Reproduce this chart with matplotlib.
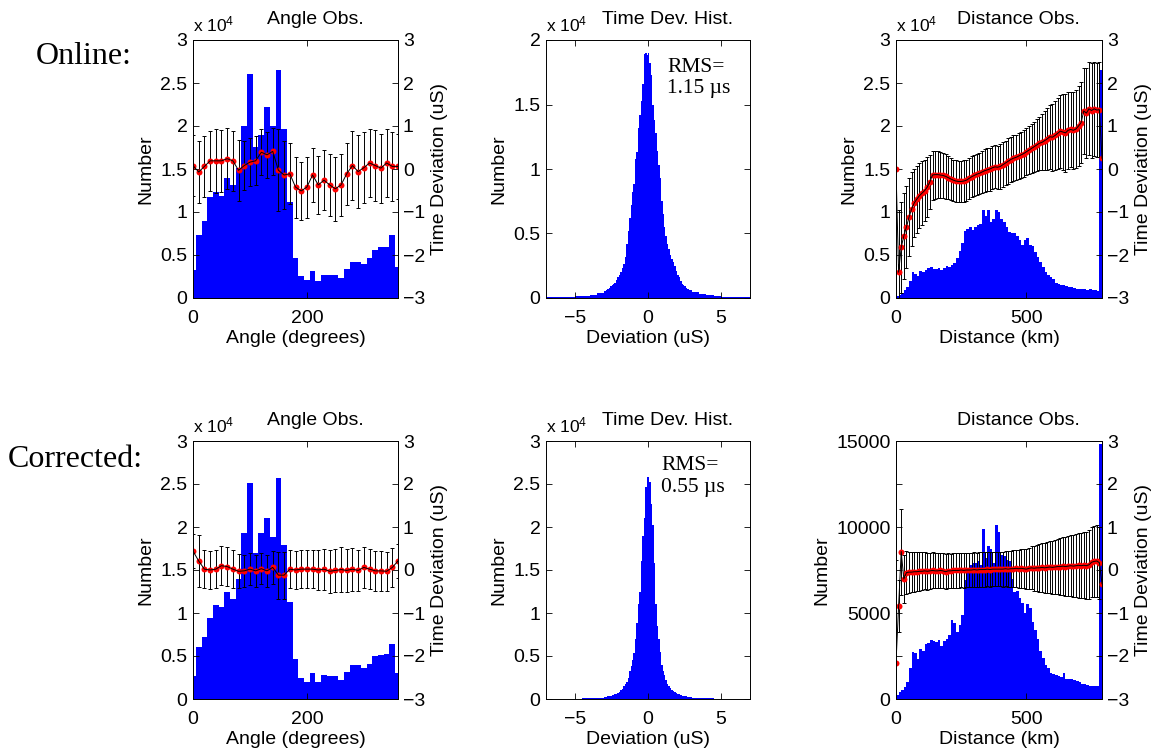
import numpy as np
import matplotlib.pyplot as plt

plt.rcParams['font.family'] = ['Liberation Sans', 'DejaVu Sans']
plt.rcParams['mathtext.fontset'] = 'custom'
plt.rcParams['mathtext.rm'] = 'Liberation Sans'
plt.rcParams['mathtext.default'] = 'regular'

# ---- angle observations (10 degree bins) ----
angle = np.arange(0, 361, 10)
ang_cnt_on = np.array([3200, 7300, 8900, 11700, 12300, 11900, 13900, 13100, 15100, 20000,
                       26100, 17600, 19000, 22200, 20000, 26500, 19700, 11200, 4700, 2600,
                       2100, 3100, 2000, 2700, 2700, 2700, 2300, 3400, 4200, 4200,
                       3900, 4600, 5600, 5900, 5900, 7300, 3600])
ang_dev_on = np.array([0.08, -0.07, 0.06, 0.19, 0.19, 0.19, 0.24, 0.19, -0.03, 0.08,
                       0.16, 0.19, 0.39, 0.33, 0.41, -0.03, -0.14, -0.11, -0.42, -0.51,
                       -0.42, -0.14, -0.37, -0.26, -0.37, -0.46, -0.37, -0.11, 0.08, -0.06,
                       0.03, 0.14, 0.08, 0.02, 0.14, 0.06, 0.06])
ang_err_on = np.array([0.7, 0.72, 0.71, 0.7, 0.74, 0.72, 0.71, 0.7, 0.71, 0.57,
                       0.55, 0.57, 0.53, 0.54, 0.54, 0.95, 0.8, 0.71, 0.71, 0.68,
                       0.71, 0.62, 0.68, 0.7, 0.72, 0.75, 0.72, 0.72, 0.8, 0.85,
                       0.82, 0.8, 0.82, 0.8, 0.8, 0.8, 0.75])
ang_cnt_cor = np.array([2700, 6000, 7200, 9400, 10900, 10700, 12400, 11600, 13900, 19300,
                        25100, 17000, 19300, 21100, 18800, 25700, 17900, 11300, 4700, 2500,
                        2000, 3000, 2000, 2800, 2700, 2700, 2200, 3100, 3900, 3900,
                        3600, 4100, 5000, 5100, 5200, 6400, 3000])
ang_dev_cor = np.array([0.44, 0.21, 0.02, 0.0, 0.02, 0.1, 0.08, 0.02, -0.03, -0.02,
                        0.02, -0.02, 0.03, -0.02, 0.06, -0.12, -0.12, 0.02, 0.0, 0.02,
                        0.02, 0.02, 0.0, 0.02, -0.03, -0.01, 0.01, -0.01, 0.02, -0.01,
                        0.06, 0.02, -0.02, -0.02, -0.03, 0.06, 0.21])
ang_err_cor = np.array([0.4, 0.6, 0.45, 0.45, 0.45, 0.46, 0.46, 0.45, 0.4, 0.38,
                        0.38, 0.37, 0.36, 0.37, 0.38, 0.55, 0.55, 0.45, 0.45, 0.45,
                        0.45, 0.45, 0.47, 0.48, 0.5, 0.5, 0.52, 0.5, 0.5, 0.48,
                        0.47, 0.47, 0.46, 0.46, 0.46, 0.45, 0.4])

# ---- time deviation histograms (counts per 0.1 us) ----
dev_edges = np.concatenate([np.linspace(-7, -3.5, 8), np.linspace(-3, 3, 61),
                            np.linspace(3.5, 7, 8)])
dev_cnt_on = np.array([40, 50, 70, 90, 120, 180, 250, 400,
                       550, 600, 700, 800, 900, 1000, 1100, 1200, 1400, 1600,
                       1800, 2000, 2300, 2600, 3200, 4200, 5200, 6200, 7200, 8200,
                       8800, 10800, 11300, 13200, 14200, 15300, 16600, 18900, 19000, 18800,
                       19000, 18200, 17300, 15000, 13800, 12800, 11400, 10300, 9300, 7500,
                       6500, 5500, 4800, 4200, 3800, 3300, 3000, 2800, 2500, 2100,
                       1800, 1600, 1300, 1100, 1000, 900, 800, 700, 650, 600,
                       450, 320, 220, 160, 110, 80, 60, 50])
dev_cnt_cor = np.array([10, 20, 20, 30, 40, 60, 100, 150,
                        250, 280, 320, 360, 400, 450, 500, 550, 600, 700,
                        800, 1000, 1200, 1500, 1700, 2000, 2400, 3200, 3800, 4500,
                        5300, 7000, 8800, 11000, 12500, 16000, 19000, 21000, 24700, 25800,
                        25800, 25200, 22700, 20200, 15800, 11100, 8500, 7000, 5500, 4000,
                        3300, 2800, 2200, 1800, 1500, 1300, 1100, 900, 800, 700,
                        600, 550, 500, 400, 350, 300, 300, 250, 220, 200,
                        150, 100, 60, 40, 30, 20, 20, 10])

# ---- distance observations (10 km bins) ----
dist = np.arange(0, 791, 10)
dist_edges = np.arange(0, 791, 10)
dist_cnt_on = np.array([200, 400, 600, 900, 1300, 2000, 3000, 2800, 2500, 3100,
                        3000, 3300, 3500, 3600, 3400, 3400, 3500, 3300, 3500, 3700,
                        3600, 3800, 4100, 4700, 5500, 6400, 7800, 8000, 8200, 7900,
                        8200, 8500, 8600, 10200, 9500, 10200, 8800, 9200, 10200, 10000,
                        9200, 8800, 8300, 7700, 7500, 7500, 7200, 6700, 6200, 6700,
                        7000, 6200, 6000, 5300, 4800, 4200, 3600, 3000, 2700, 2400,
                        2200, 1700, 1600, 1500, 1500, 1400, 1300, 1300, 1200, 1100,
                        1100, 1000, 1000, 900, 1000, 900, 900, 800, 26500])
dist_dev_on = np.array([0.0, -2.4, -1.82, -1.56, -1.35, -1.12, -0.93, -0.79, -0.7, -0.62,
                        -0.56, -0.5, -0.42, -0.3, -0.14, -0.13, -0.13, -0.14, -0.15, -0.17,
                        -0.2, -0.23, -0.26, -0.28, -0.29, -0.29, -0.28, -0.26, -0.22, -0.18,
                        -0.15, -0.12, -0.1, -0.07, -0.04, -0.02, 0.0, 0.03, 0.05, 0.04,
                        0.06, 0.1, 0.14, 0.18, 0.22, 0.25, 0.27, 0.3, 0.33, 0.36,
                        0.4, 0.44, 0.48, 0.52, 0.56, 0.6, 0.62, 0.66, 0.7, 0.75,
                        0.74, 0.78, 0.83, 0.88, 0.86, 0.84, 0.9, 0.92, 0.9, 0.93,
                        1.0, 1.08, 1.35, 1.3, 1.4, 1.36, 1.4, 1.37, 1.38, 0.25])
dist_err_on = np.array([0, 1.45, 1.06, 1.0, 0.95, 0.9, 0.85, 0.8, 0.78, 0.76,
                        0.74, 0.72, 0.7, 0.62, 0.57, 0.56, 0.55, 0.54, 0.53, 0.52,
                        0.5, 0.49, 0.48, 0.48, 0.48, 0.48, 0.48, 0.48, 0.48, 0.48,
                        0.48, 0.48, 0.48, 0.49, 0.5, 0.5, 0.5, 0.5, 0.5, 0.5,
                        0.52, 0.52, 0.52, 0.53, 0.53, 0.53, 0.53, 0.54, 0.54, 0.55,
                        0.55, 0.56, 0.57, 0.58, 0.6, 0.62, 0.65, 0.68, 0.72, 0.75,
                        0.78, 0.8, 0.82, 0.85, 0.88, 0.9, 0.9, 0.88, 0.9, 0.9,
                        0.92, 0.95, 1.0, 1.05, 1.08, 1.1, 1.1, 1.1, 1.1, 0])
dist_cnt_cor = np.array([250, 400, 500, 700, 1000, 1800, 2750, 2700, 2300, 2900,
                         2800, 3200, 3250, 3450, 3400, 3300, 3450, 3100, 3400, 3500,
                         3700, 4600, 4400, 3900, 4300, 4900, 6900, 7500, 7800, 7900,
                         7900, 8000, 7800, 9900, 8200, 8900, 8700, 7900, 10100, 9700,
                         8400, 8300, 8100, 8000, 7000, 6200, 6300, 5900, 5600, 5000,
                         5500, 5300, 4500, 4000, 3500, 2800, 2400, 2000, 1800, 1500,
                         1450, 1400, 1350, 1300, 1500, 1150, 1150, 1150, 1100, 1050,
                         1000, 900, 850, 800, 780, 760, 750, 750, 14800])
dist_dev_cor = np.array([-2.16, -0.84, 0.43, -0.21, -0.06, -0.05, -0.05, -0.04, -0.04, -0.03,
                         -0.03, -0.02, -0.03, -0.02, -0.01, -0.02, -0.02, -0.01, -0.02, -0.04,
                         -0.02, -0.02, -0.01, -0.01, -0.01, 0.0, -0.01, 0.0, 0.0, 0.0,
                         0.01, 0.0, 0.01, 0.01, 0.01, 0.02, 0.01, 0.02, 0.02, 0.02,
                         0.02, 0.02, 0.03, 0.02, 0.03, 0.03, 0.04, 0.03, 0.04, 0.03,
                         0.02, 0.04, 0.05, 0.04, 0.05, 0.05, 0.06, 0.05, 0.06, 0.07,
                         0.06, 0.07, 0.08, 0.08, 0.09, 0.08, 0.09, 0.1, 0.09, 0.1,
                         0.11, 0.1, 0.11, 0.1, 0.12, 0.18, 0.2, 0.21, 0.17, -0.32])
dist_err_cor = np.array([2.4, 0.6, 1.0, 0.55, 0.5, 0.48, 0.47, 0.46, 0.45, 0.45,
                         0.44, 0.43, 0.43, 0.42, 0.42, 0.41, 0.41, 0.41, 0.41, 0.41,
                         0.41, 0.4, 0.4, 0.4, 0.4, 0.4, 0.4, 0.4, 0.4, 0.4,
                         0.4, 0.4, 0.4, 0.4, 0.4, 0.4, 0.4, 0.4, 0.4, 0.4,
                         0.4, 0.41, 0.41, 0.42, 0.42, 0.43, 0.43, 0.44, 0.45, 0.46,
                         0.47, 0.48, 0.5, 0.52, 0.53, 0.55, 0.56, 0.58, 0.59, 0.6,
                         0.62, 0.63, 0.64, 0.66, 0.67, 0.68, 0.7, 0.71, 0.72, 0.73,
                         0.75, 0.76, 0.77, 0.78, 0.8, 0.81, 0.82, 0.83, 0.84, 0])

FS = 14
W, H = 1152, 755
fig = plt.figure(figsize=(11.52, 7.55), dpi=100)


def add_ax(l, t, r, b):
    return fig.add_axes([l / W, 1 - b / H, (r - l) / W, (b - t) / H])


def style(ax):
    for s in ax.spines.values():
        s.set_linewidth(0.7)
    ax.tick_params(axis='x', direction='in', top=True, length=4, width=0.6, pad=8.5, labelsize=FS)
    ax.tick_params(axis='y', direction='in', length=4, width=0.6, pad=4, labelsize=FS)


def fmt_ticks(ax, ticks, shown=None):
    ax.set_yticks(ticks)
    labels = []
    for t in ticks:
        if shown is None or t in shown:
            labels.append('%g' % t)
        else:
            labels.append('')
    ax.set_yticklabels(labels)


def title(ax, txt, exp=True):
    ax.text(0.595, 1.062, txt, transform=ax.transAxes, ha='center', va='baseline', fontsize=FS)
    if exp:
        ax.text(0.0, 1.035, r'x 10$^{4}$', transform=ax.transAxes, ha='left', va='baseline', fontsize=12.5)


def obs_panel(ax, edges, counts, scale, x, dev, err, xmax, xticks, xlabel, yticks, shown=None):
    ax.stairs(counts / scale, edges, fill=True, color='blue', lw=0)
    ax.set_xlim(0, xmax)
    ax.set_ylim(yticks[0], yticks[-1])
    ax.set_xticks(xticks)
    fmt_ticks(ax, yticks, shown)
    style(ax)
    ax.tick_params(axis='y', right=False)
    ax.set_ylabel('Number', fontsize=FS, labelpad=4)
    ax.set_xlabel(xlabel, fontsize=FS, labelpad=2)
    ax2 = ax.twinx()
    ax2.errorbar(x, dev, yerr=err, fmt='-', color='black', lw=0.7, elinewidth=0.7,
                 capsize=1.6, capthick=0.7)
    ax2.plot(x, dev, 'o', color='red', ms=4.3, mec='none')
    ax2.set_ylim(-3, 3)
    ax2.set_yticks(np.arange(-3, 4, 1))
    ax2.set_xlim(0, xmax)
    for s in ax2.spines.values():
        s.set_linewidth(0.7)
    ax2.tick_params(axis='y', direction='in', length=4, width=0.6, pad=3.5, labelsize=FS)
    ax2.set_ylabel('Time Deviation (uS)', fontsize=FS, labelpad=4)
    return ax2


def dev_panel(ax, counts, ymax, rms, tx, ty):
    ax.stairs(counts / 1e4, dev_edges, fill=True, color='blue', lw=0)
    ax.set_xlim(-7, 7)
    ax.set_ylim(0, ymax)
    ax.set_xticks([-5, 0, 5])
    fmt_ticks(ax, np.arange(0, ymax + 0.01, 0.5))
    style(ax)
    ax.tick_params(axis='y', right=True)
    ax.set_ylabel('Number', fontsize=FS, labelpad=4)
    ax.set_xlabel('Deviation (uS)', fontsize=FS, labelpad=2)
    ax.text(tx, ty, 'RMS=\n' + rms, transform=ax.transAxes, ha='left', va='top',
            family=['Liberation Serif'], fontsize=15.5, linespacing=1.15)


rows = [(40, 298), (441, 699)]
cols = [(193, 398), (546, 750), (896, 1102)]

# top row: online
t, b = rows[0]
a = add_ax(cols[0][0], t, cols[0][1], b)
obs_panel(a, np.append(angle - 5, angle[-1] + 5), ang_cnt_on, 1e4, angle, ang_dev_on, ang_err_on,
          360, [0, 200], 'Angle (degrees)', np.arange(0, 3.01, 0.5))
title(a, 'Angle Obs.')
a = add_ax(cols[1][0], t, cols[1][1], b)
dev_panel(a, dev_cnt_on, 2, '1.15 \u00b5s', 0.595, 0.93)
title(a, 'Time Dev. Hist.')
a = add_ax(cols[2][0], t, cols[2][1], b)
obs_panel(a, dist_edges, dist_cnt_on, 1e4, dist, dist_dev_on, dist_err_on,
          790, [0, 500], 'Distance (km)', np.arange(0, 3.01, 0.5))
title(a, 'Distance Obs.')

# bottom row: corrected
t, b = rows[1]
a = add_ax(cols[0][0], t, cols[0][1], b)
obs_panel(a, np.append(angle - 5, angle[-1] + 5), ang_cnt_cor, 1e4, angle, ang_dev_cor, ang_err_cor,
          360, [0, 200], 'Angle (degrees)', np.arange(0, 3.01, 0.5))
title(a, 'Angle Obs.')
a = add_ax(cols[1][0], t, cols[1][1], b)
dev_panel(a, dev_cnt_cor, 3, '0.55 \u00b5s', 0.565, 0.94)
title(a, 'Time Dev. Hist.')
a = add_ax(cols[2][0], t, cols[2][1], b)
obs_panel(a, dist_edges, dist_cnt_cor, 1, dist, dist_dev_cor, dist_err_cor,
          790, [0, 500], 'Distance (km)', np.arange(0, 15001, 2500), shown=[0, 5000, 10000, 15000])
title(a, 'Distance Obs.', exp=False)

fig.text(36 / W, 1 - 64 / H, 'Online:', family=['Liberation Serif'], fontsize=23, va='baseline')
fig.text(8 / W, 1 - 467 / H, 'Corrected:', family=['Liberation Serif'], fontsize=23, va='baseline')

fig.savefig('out.png', dpi=100)
